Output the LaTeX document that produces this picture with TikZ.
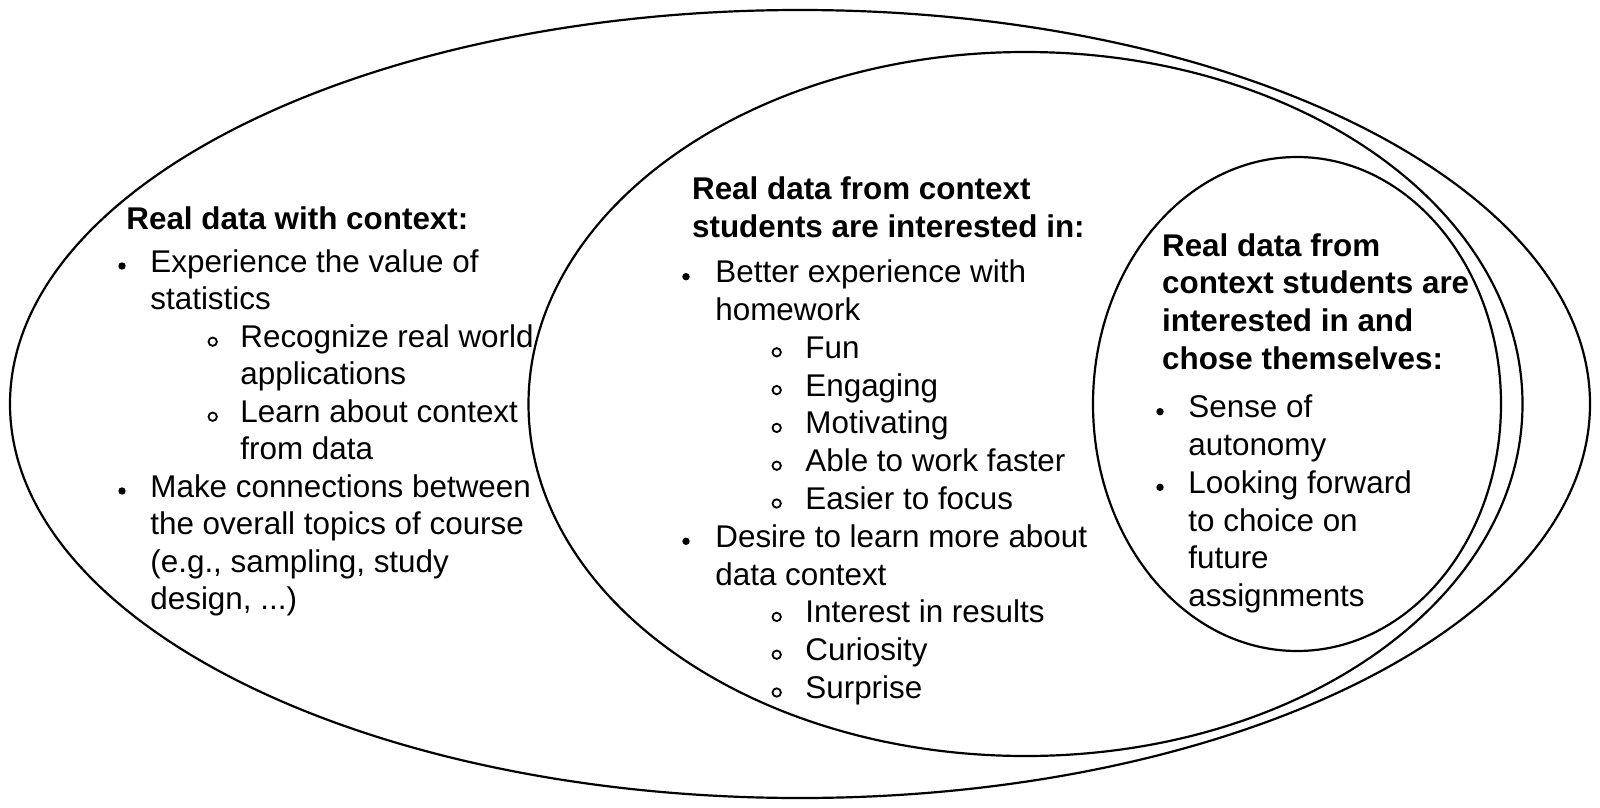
\documentclass[tikz,border=0pt]{standalone}
\usepackage{fontspec}
\setmainfont{Liberation Sans}
\usepackage{tikz}

\tikzset{
  txt/.style={anchor=base west, inner sep=0pt},
  ttl/.style={txt, font=\fontsize{15.7}{18.8}\selectfont\bfseries},
  ring/.style={line width=1.1pt},
  subdot/.style={line width=0.9pt}
}

\begin{document}
\begin{tikzpicture}[x=0.5pt, y=-0.5pt, font=\fontsize{15.7}{18.8}\selectfont]
\useasboundingbox (0,0) rectangle (1600,808);
\draw[ring] (800,404) ellipse [x radius=790, y radius=394];
    \draw[ring] (1025.5,404) ellipse [x radius=497, y radius=352];
    \draw[ring] (1297,404) ellipse [x radius=204, y radius=247];

    % real data with context
    \node[ttl] (l0) at (126,229) {Real data with context:};
    \fill (122,266) circle (3.7);
    \node[txt] (l1) at (150,272) {Experience the value of};
    \node[txt] (l2) at (150,309.5) {statistics};
    \draw[subdot] (212.7,341.7) circle (4.2);
    \node[txt] (l3) at (240,347) {Recognize real world};
    \node[txt] (l4) at (240,384.5) {applications};
    \draw[subdot] (212.7,416.7) circle (4.2);
    \node[txt] (l5) at (240,422) {Learn about context};
    \node[txt] (l6) at (240,459.5) {from data};
    \fill (122,491) circle (3.7);
    \node[txt] (l7) at (150,497) {Make connections between};
    \node[txt] (l8) at (150,534.5) {the overall topics of course};
    \node[txt] (l9) at (150,572) {(e.g., sampling, study};
    \node[txt] (l10) at (150,609.5) {design, ...)};

    % students are interested in
    \node[ttl] (m0) at (691.7,199.3) {Real data from context};
    \node[ttl] (m00) at (691.7,237.7) {students are interested in:};
    \fill (686,276.7) circle (3.7);
    \node[txt] (m1) at (715,282.7) {Better experience with};
    \node[txt] (m2) at (715,320.5) {homework};
    \draw[subdot] (776.7,352.3) circle (4.2);
    \node[txt] (m3) at (805,358.3) {Fun};
    \draw[subdot] (776.7,390.1) circle (4.2);
    \node[txt] (m4) at (805,396.1) {Engaging};
    \draw[subdot] (776.7,427.9) circle (4.2);
    \node[txt] (m5) at (805,433.9) {Motivating};
    \draw[subdot] (776.7,465.7) circle (4.2);
    \node[txt] (m6) at (805,471.7) {Able to work faster};
    \draw[subdot] (776.7,503.5) circle (4.2);
    \node[txt] (m7) at (805,509.5) {Easier to focus};
    \fill (686,541.3) circle (3.7);
    \node[txt] (m8) at (715,547.3) {Desire to learn more about};
    \node[txt] (m9) at (715,585.1) {data context};
    \draw[subdot] (776.7,616.9) circle (4.2);
    \node[txt] (m10) at (805,622.9) {Interest in results};
    \draw[subdot] (776.7,654.7) circle (4.2);
    \node[txt] (m11) at (805,660.7) {Curiosity};
    \draw[subdot] (776.7,692.5) circle (4.2);
    \node[txt] (m12) at (805,698.5) {Surprise};

    % chose themselves
    \node[ttl] (r0) at (1161.7,256) {Real data from};
    \node[ttl] (r00) at (1161.7,293.8) {context students are};
    \node[ttl] (r000) at (1161.7,331.6) {interested in and};
    \node[ttl] (r0000) at (1161.7,369.4) {chose themselves:};
    \fill (1160,411.7) circle (3.7);
    \node[txt] (r1) at (1188,417.7) {Sense of};
    \node[txt] (r2) at (1188,455.5) {autonomy};
    \fill (1160,487.3) circle (3.7);
    \node[txt] (r3) at (1188,493.3) {Looking forward};
    \node[txt] (r4) at (1188,531.1) {to choice on};
    \node[txt] (r5) at (1188,568.9) {future};
    \node[txt] (r6) at (1188,606.7) {assignments};
\end{tikzpicture}
\end{document}
